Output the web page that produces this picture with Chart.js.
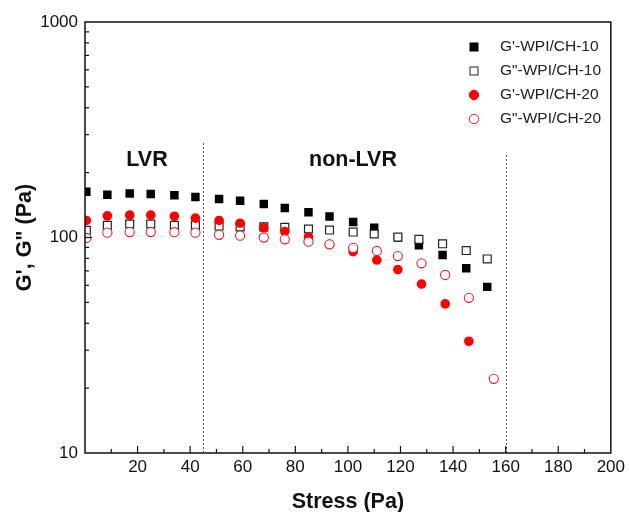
<!DOCTYPE html>
<html>
<head>
<meta charset="utf-8">
<script src="https://cdn.jsdelivr.net/npm/chart.js@4/dist/chart.umd.min.js"></script>
<style>
  html,body{margin:0;padding:0;background:#fff;}
  #wrap{width:629px;height:512px;}
</style>
</head>
<body>
<div id="wrap"><canvas id="chart" width="629" height="512"></canvas></div>
<script>
// stress (Pa) for each series
const stress10 = [0.5, 8.5, 17, 25, 34, 42, 51, 59, 68, 76, 85, 93, 102, 110, 119, 127, 136, 145, 153];
const stress20 = [0.5, 8.5, 17, 25, 34, 42, 51, 59, 68, 76, 85, 93, 102, 111, 119, 128, 137, 146];
const stress20b = [0.5, 8.5, 17, 25, 34, 42, 51, 59, 68, 76, 85, 93, 102, 111, 119, 128, 137, 146, 155.5];

// moduli (Pa)
const gp10  = [163, 158, 160, 159, 157, 154, 151, 148, 143, 137, 131, 125, 118, 111, 100, 92, 83, 72, 59];
const gpp10 = [108, 114, 115.5, 115.5, 114, 114, 113, 112, 112, 111.5, 109.5, 108.3, 106, 103.8, 100.5, 98, 93.5, 87, 79.5];
const gp20  = [120, 126, 127, 127, 125.5, 123, 120, 116.5, 111, 106.5, 100.5, 93, 86, 78.6, 71, 60.8, 49.2, 33];
const gpp20 = [99.5, 105.3, 106, 106, 105.8, 105.3, 103, 102, 100, 98.1, 95.6, 93, 89.5, 86.6, 82, 75.9, 67, 52.5, 22.1];

const seriesNames = ["G'-WPI/CH-10", 'G"-WPI/CH-10', "G'-WPI/CH-20", 'G"-WPI/CH-20'];
const xTicks = [20, 40, 60, 80, 100, 120, 140, 160, 180, 200];
const yTicks = [10, 100, 1000];
const regionLines = [45, 160];

const pts = (xs, ys) => ys.map((y, i) => ({x: xs[i], y: y}));

const FONT = 'Liberation Sans, Arial, sans-serif';

// frame, inward ticks, region lines, labels and legend
const decor = {
  id: 'decor',
  beforeDatasetsDraw(chart) {
    const {ctx, chartArea: a, scales: {x, y}} = chart;
    ctx.save();
    ctx.strokeStyle = '#555';
    ctx.lineWidth = 1;
    ctx.setLineDash([2, 2]);
    const tops = [143, 155];
    regionLines.forEach((v, i) => {
      const px = Math.round(x.getPixelForValue(v)) + 0.5;
      ctx.beginPath();
      ctx.moveTo(px, tops[i]);
      ctx.lineTo(px, a.bottom);
      ctx.stroke();
    });
    ctx.restore();
  },
  afterDraw(chart) {
    const {ctx, chartArea: a, scales: {x, y}} = chart;
    ctx.save();
    ctx.strokeStyle = '#111';
    ctx.lineWidth = 1.5;
    ctx.strokeRect(a.left, a.top, a.right - a.left, a.bottom - a.top);
    ctx.lineWidth = 1.2;
    // x ticks
    for (let v = 10; v < 200; v += 10) {
      const px = x.getPixelForValue(v);
      const len = v % 20 === 0 ? 7 : 4;
      ctx.beginPath();
      ctx.moveTo(px, a.bottom);
      ctx.lineTo(px, a.bottom - len);
      ctx.stroke();
    }
    // y ticks (log)
    for (let d = 10; d < 1000; d *= 10) {
      for (let m = 1; m <= 9; m++) {
        const v = d * m;
        if (v === 10) continue;
        const py = y.getPixelForValue(v);
        const len = m === 1 ? 7 : 4;
        ctx.beginPath();
        ctx.moveTo(a.left, py);
        ctx.lineTo(a.left + len, py);
        ctx.stroke();
      }
    }
    // region labels
    ctx.fillStyle = '#111';
    ctx.font = 'bold 21.5px ' + FONT;
    ctx.textAlign = 'center';
    ctx.textBaseline = 'middle';
    ctx.fillText('LVR', 147, 160);
    ctx.fillText('non-LVR', 353, 160);
    // legend
    ctx.font = '15.5px ' + FONT;
    ctx.textAlign = 'left';
    const rows = [47, 71, 95, 119];
    chart.data.datasets.forEach((ds, i) => {
      const cy = rows[i], cx = 474;
      ctx.save();
      ctx.fillStyle = ds.backgroundColor;
      ctx.strokeStyle = ds.borderColor;
      ctx.lineWidth = 1;
      if (ds.pointStyle === 'rect') {
        if (i === 0) ctx.fillRect(cx - 4.5, cy - 4.5, 9, 9);
        else ctx.strokeRect(cx - 4, cy - 4, 8, 8);
      } else {
        ctx.beginPath();
        ctx.arc(cx, cy, 4.7, 0, Math.PI * 2);
        ctx.fill();
        ctx.stroke();
      }
      ctx.restore();
      ctx.fillStyle = '#222';
      ctx.fillText(ds.label, 500, cy);
    });
    ctx.restore();
  }
};

new Chart(document.getElementById('chart'), {
  type: 'scatter',
  data: {
    datasets: [
      {label: seriesNames[0], data: pts(stress10, gp10), pointStyle: 'rect', pointRadius: 6,
       backgroundColor: '#000', borderColor: '#000', borderWidth: 0, order: 4},
      {label: seriesNames[1], data: pts(stress10, gpp10), pointStyle: 'rect', pointRadius: 5.6,
       backgroundColor: '#fff', borderColor: '#222', borderWidth: 1.2, order: 3},
      {label: seriesNames[2], data: pts(stress20, gp20), pointStyle: 'circle', pointRadius: 4.8,
       backgroundColor: '#f00', borderColor: '#f00', borderWidth: 0, order: 2},
      {label: seriesNames[3], data: pts(stress20b, gpp20), pointStyle: 'circle', pointRadius: 4.6,
       backgroundColor: '#fff', borderColor: '#e82020', borderWidth: 1.1, order: 1}
    ]
  },
  options: {
    responsive: false,
    animation: false,
    layout: {padding: {top: 22, right: 17, left: 0, bottom: 0}},
    plugins: {legend: {display: false}, tooltip: {enabled: false}},
    scales: {
      x: {
        type: 'linear', min: 0, max: 200,
        grid: {display: false, drawTicks: false},
        border: {display: false},
        afterBuildTicks: s => { s.ticks = xTicks.map(v => ({value: v})); },
        afterFit: s => { s.height = 59; },
        ticks: {color: '#111', font: {family: FONT, size: 17}, padding: 4, maxRotation: 0, autoSkip: false},
        title: {display: true, text: 'Stress (Pa)', color: '#111', font: {family: FONT, size: 21.5, weight: 'bold'}, padding: {top: 4, bottom: -3}}
      },
      y: {
        type: 'logarithmic', min: 10, max: 1000,
        grid: {display: false, drawTicks: false},
        border: {display: false},
        afterBuildTicks: s => { s.ticks = yTicks.map(v => ({value: v})); },
        afterFit: s => { s.width = 85; },
        ticks: {color: '#111', font: {family: FONT, size: 17}, padding: 7, autoSkip: false,
                callback: v => String(v)},
        title: {display: true, text: 'G\', G" (Pa)', color: '#111', font: {family: FONT, size: 21.5, weight: 'bold'}, padding: {top: 12, bottom: 0}}
      }
    }
  },
  plugins: [decor]
});
</script>
</body>
</html>
